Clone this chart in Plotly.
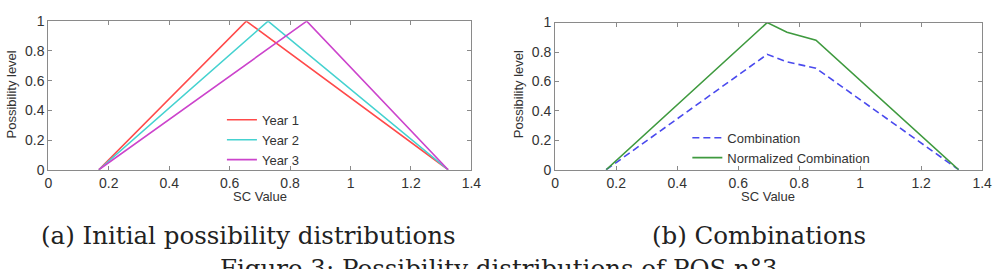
import plotly.graph_objects as go

# ---- data ----
year_x = {
    "Year 1": [0.167, 0.655, 1.323],
    "Year 2": [0.167, 0.727, 1.323],
    "Year 3": [0.167, 0.855, 1.323],
}
year_y = [0, 1, 0]
comb_x = [0.167, 0.695, 0.76, 0.855, 1.323]
comb_y = [0, 0.784, 0.733, 0.69, 0]
norm_y = [0, 1, 0.935, 0.88, 0]
x_ticks = [0, 0.2, 0.4, 0.6, 0.8, 1, 1.2, 1.4]
y_ticks = [0, 0.2, 0.4, 0.6, 0.8, 1]

year_colors = {"Year 1": "#ff4a4a", "Year 2": "#45d2d0", "Year 3": "#cc44cc"}

W, H = 1005, 269
def px(x): return x / W
def py(y): return (H - y) / H

SANS = "Liberation Sans, Arial, sans-serif"
SERIF = "DejaVu Serif, Liberation Serif, serif"

fig = go.Figure()
for name, xs in year_x.items():
    fig.add_trace(go.Scatter(x=xs, y=year_y, mode="lines", name=name,
                             line=dict(color=year_colors[name], width=1.6),
                             xaxis="x", yaxis="y", legend="legend"))
fig.add_trace(go.Scatter(x=comb_x, y=comb_y, mode="lines", name="Combination",
                         line=dict(color="#4a4aee", width=1.6, dash="7px,4px"),
                         xaxis="x2", yaxis="y2", legend="legend2"))
fig.add_trace(go.Scatter(x=comb_x, y=norm_y, mode="lines", name="Normalized Combination",
                         line=dict(color="#3f9a3f", width=1.6),
                         xaxis="x2", yaxis="y2", legend="legend2"))

tickfont = dict(family=SANS, size=14, color="#333333")
axcommon = dict(showline=True, linecolor="#8a8a8a", linewidth=1.2, mirror="allticks",
                ticks="inside", ticklen=4, tickcolor="#8a8a8a", showgrid=False,
                zeroline=False, tickfont=tickfont, fixedrange=True)
legfont = dict(family=SANS, size=13, color="#333333")

fig.update_layout(
    width=W, height=H, margin=dict(l=0, r=0, t=0, b=0),
    paper_bgcolor="white", plot_bgcolor="white",
    xaxis=dict(domain=[px(45), px(474)], range=[0, 1.4], tickvals=x_ticks, anchor="y", **axcommon),
    yaxis=dict(domain=[py(172), py(14)], range=[0, 1], tickvals=y_ticks, anchor="x", **axcommon),
    xaxis2=dict(domain=[px(559), px(992)], range=[0, 1.4], tickvals=x_ticks, anchor="y2", **axcommon),
    yaxis2=dict(domain=[py(172), py(15.5)], range=[0, 1], tickvals=y_ticks, anchor="x2", **axcommon),
    legend=dict(x=px(221), y=py(103), xanchor="left", yanchor="top",
                bgcolor="rgba(0,0,0,0)", borderwidth=0, tracegroupgap=0, font=legfont),
    legend2=dict(x=px(693), y=py(122), xanchor="left", yanchor="top",
                 bgcolor="rgba(0,0,0,0)", borderwidth=0, tracegroupgap=0, font=legfont),
    showlegend=True,
)

lab = dict(family=SANS, size=13, color="#333333")
def A(text, x, y, font, **kw):
    d = dict(text=text, x=px(x), y=py(y), xref="paper", yref="paper", showarrow=False,
             xanchor="center", yanchor="middle", font=font)
    d.update(kw)
    return d

cap = dict(family=SERIF, size=24.5, color="#222222")
ann = [
    A("SC Value", 260, 200, lab),
    A("SC Value", 775, 200, lab),
    A("Possibility level", 8, 92, lab, textangle=-90),
    A("Possibility level", 522, 92, lab, textangle=-90),
    A("(a) Initial possibility distributions", 248, 242, cap),
    A("(b) Combinations", 766, 242, cap),
    A("Figure 3: Possibility distributions of POS n°3", 502, 277, cap),
]
fig.update_layout(annotations=ann)

fig.write_html("out.html")
